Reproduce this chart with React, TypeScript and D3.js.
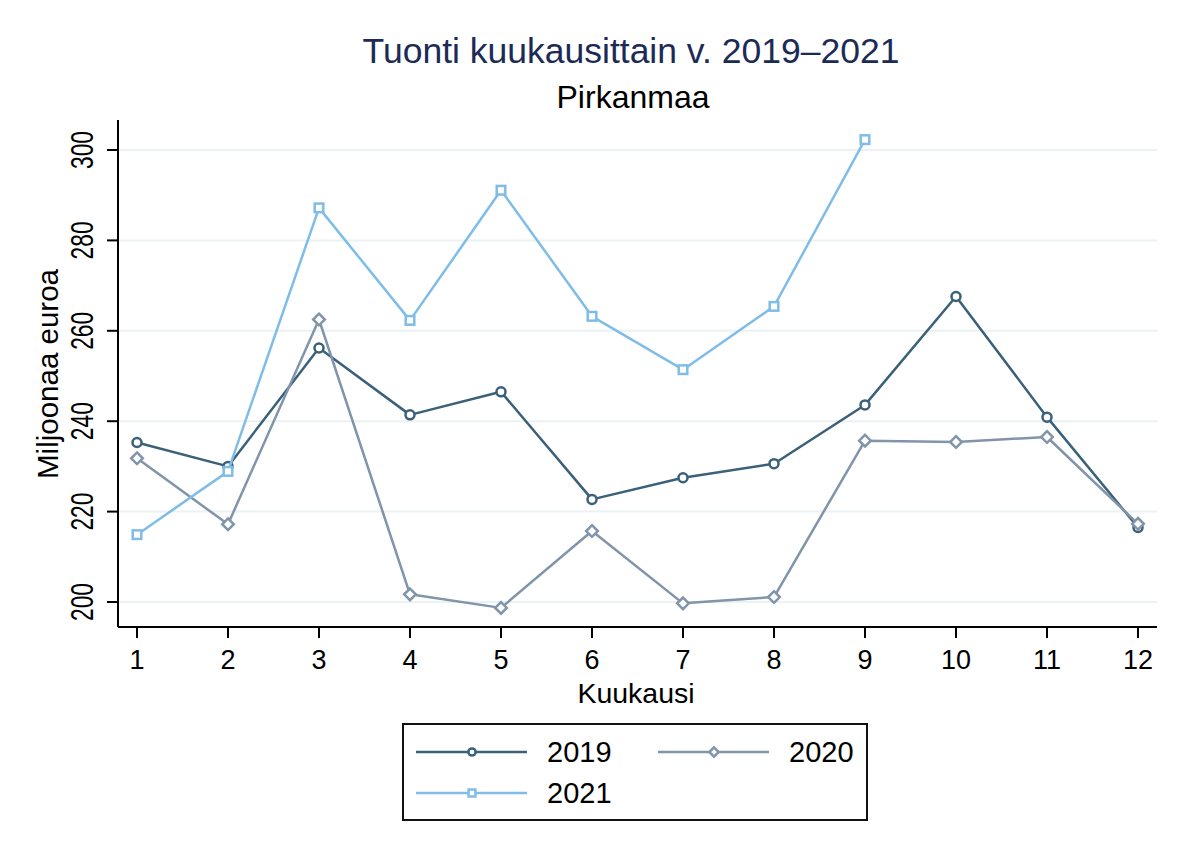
import React from "react";
import * as d3 from "d3";

const months = [1, 2, 3, 4, 5, 6, 7, 8, 9, 10, 11, 12];
const v2019 = [235.3, 230.0, 256.2, 241.4, 246.5, 222.7, 227.5, 230.6, 243.6, 267.6, 240.9, 216.5];
const v2020 = [231.8, 217.2, 262.5, 201.7, 198.7, 215.7, 199.7, 201.1, 235.7, 235.4, 236.5, 217.3];
const v2021 = [214.9, 228.9, 287.2, 262.3, 291.1, 263.2, 251.4, 265.4, 302.3];
const yTicks = [200, 220, 240, 260, 280, 300];
const seriesNames = ["2019", "2020", "2021"];

const W = 1186, H = 862;
const FONT = "'Liberation Sans', Arial, Helvetica, sans-serif";
const colors = ["#3b6079", "#8094aa", "#7fbde8"];

const plot = { left: 118, right: 1157, top: 120, bottom: 627 };

function Marker({ kind, x, y, color, size = 1 }: { kind: number; x: number; y: number; color: string; size?: number }) {
  if (kind === 0) return <circle cx={x} cy={y} r={4.5 * size} fill="#fff" stroke={color} strokeWidth={2.5} />;
  if (kind === 1) {
    const s = 5.8 * size;
    return <path d={`M${x},${y - s}L${x + s},${y}L${x},${y + s}L${x - s},${y}Z`} fill="#fff" stroke={color} strokeWidth={2.5} />;
  }
  const s = 4.3 * size;
  return <rect x={x - s} y={y - s} width={2 * s} height={2 * s} fill="#fff" stroke={color} strokeWidth={2.5} />;
}

export default function App() {
  const x = d3.scaleLinear().domain([1, 12]).range([137, 1138]);
  const y = d3.scaleLinear().domain([200, 300]).range([602, 150]);
  const series = [v2019, v2020, v2021];
  const line = d3.line<number>().x((_, i) => x(months[i])).y((d) => y(d));

  const legendItems = [
    { i: 0, lx: 416, ly: 752 },
    { i: 1, lx: 658, ly: 752 },
    { i: 2, lx: 416, ly: 793 },
  ];

  return (
    <svg width={W} height={H} style={{ position: "absolute", left: 0, top: 0, background: "#fff" }} fontFamily={FONT}>
      <rect x={0} y={0} width={W} height={H} fill="#fff" />
      <text x={631} y={63} textAnchor="middle" fontSize={35.5} fill="#1c2b56">Tuonti kuukausittain v. 2019–2021</text>
      <text x={633} y={108} textAnchor="middle" fontSize={32} fill="#000">Pirkanmaa</text>

      {yTicks.map((t) => (
        <line key={"g" + t} x1={plot.left} x2={plot.right} y1={y(t)} y2={y(t)} stroke="#eaf2f3" strokeWidth={2} />
      ))}

      <line x1={plot.left} x2={plot.left} y1={plot.top} y2={plot.bottom} stroke="#000" strokeWidth={2} />
      <line x1={plot.left} x2={plot.right} y1={plot.bottom} y2={plot.bottom} stroke="#000" strokeWidth={2} />

      {yTicks.map((t) => (
        <g key={"yt" + t}>
          <line x1={plot.left - 11} x2={plot.left} y1={y(t)} y2={y(t)} stroke="#000" strokeWidth={2} />
          <text
            transform={`translate(93,${y(t)}) rotate(-90)`}
            textAnchor="middle"
            fontSize={31}
            textLength={38}
            lengthAdjust="spacingAndGlyphs"
            fill="#000"
          >
            {t}
          </text>
        </g>
      ))}

      {months.map((m) => (
        <g key={"xt" + m}>
          <line x1={x(m)} x2={x(m)} y1={plot.bottom} y2={plot.bottom + 11} stroke="#000" strokeWidth={2} />
          <text x={x(m)} y={669} textAnchor="middle" fontSize={27} fill="#000">{m}</text>
        </g>
      ))}

      <text x={636} y={703} textAnchor="middle" fontSize={28.5} fill="#000">Kuukausi</text>
      <text transform="translate(58,374) rotate(-90)" textAnchor="middle" fontSize={29.5} fill="#000">Miljoonaa euroa</text>

      {series.map((s, si) => (
        <g key={"s" + si}>
          <path d={line(s) || ""} fill="none" stroke={colors[si]} strokeWidth={2.5} strokeLinejoin="round" />
          {s.map((v, i) => (
            <Marker key={i} kind={si} x={x(months[i])} y={y(v)} color={colors[si]} />
          ))}
        </g>
      ))}

      <rect x={403} y={724} width={464} height={96} fill="#fff" stroke="#111" strokeWidth={2} />
      {legendItems.map(({ i, lx, ly }) => (
        <g key={"l" + i}>
          <line x1={lx} x2={lx + 111} y1={ly} y2={ly} stroke={colors[i]} strokeWidth={2.5} />
          <Marker kind={i} x={lx + 56} y={ly} color={colors[i]} size={0.8} />
          <text x={lx + 131} y={ly + 10} fontSize={29} fill="#000">{seriesNames[i]}</text>
        </g>
      ))}
    </svg>
  );
}
